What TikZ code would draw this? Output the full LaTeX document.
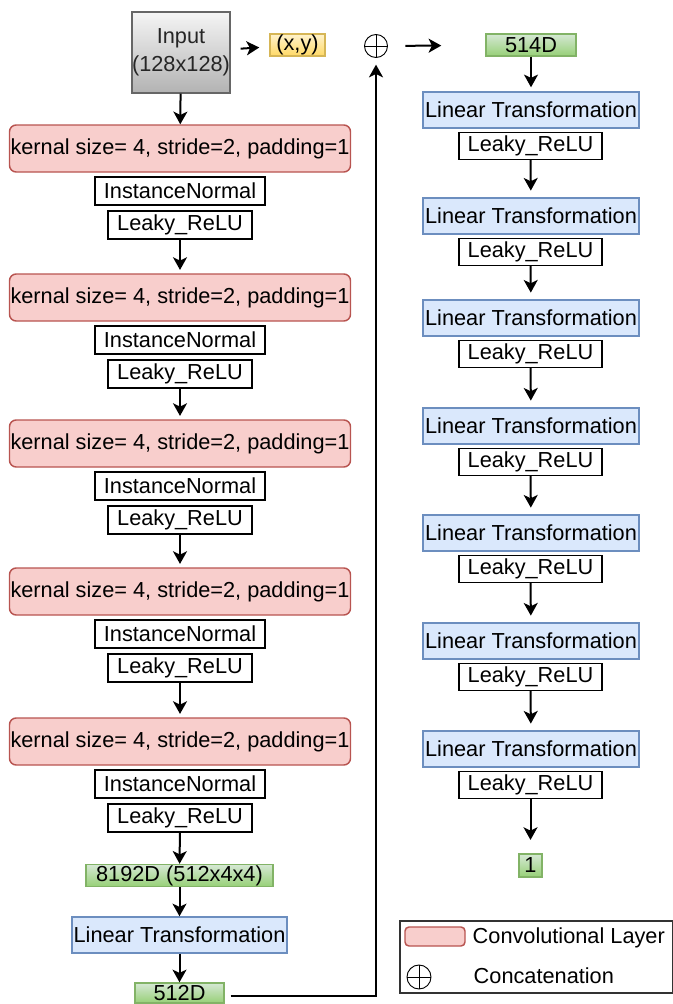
\documentclass[tikz,border=0pt]{standalone}
\usepackage{fontspec}
\setmainfont{Liberation Sans}
\usetikzlibrary{arrows.meta}
\newcommand{\px}{0.75pt}
\definecolor{convfill}{HTML}{F8CECC}
\definecolor{convline}{HTML}{B85450}
\definecolor{linfill}{HTML}{DAE8FC}
\definecolor{linline}{HTML}{6C8EBF}
\definecolor{dimtop}{HTML}{D5E8D4}
\definecolor{dimbot}{HTML}{97D077}
\definecolor{dimline}{HTML}{82B366}
\definecolor{xytop}{HTML}{FFF2CC}
\definecolor{xybot}{HTML}{FFD966}
\definecolor{xyline}{HTML}{D6B656}
\tikzset{ conv/.style = { rectangle % convolution
        , draw = convline
        , fill = convfill
        , rounded corners = 5pt
        , minimum width = 341*\px
        , minimum height = 47*\px
        }
        , inorm/.style = { rectangle % instance norm
        , draw
        , minimum width = 170*\px
        , minimum height = 28*\px
        }
        , relu/.style = { rectangle % activation
        , draw
        , minimum width = 144*\px
        , minimum height = 28*\px
        }
        , lin/.style = { rectangle % linear layer
        , draw = linline
        , fill = linfill
        , minimum width = 216*\px
        , minimum height = 36*\px
        }
        , dim/.style = { rectangle % vector size
        , draw = dimline
        , top color = dimtop
        , bottom color = dimbot
        , minimum height = 22*\px
        }
        , cat/.style = { circle % concatenation
        , draw
        , line width = 0.7pt
        , path picture = {\draw (path picture bounding box.north) -- (path picture bounding box.south)
                                (path picture bounding box.west) -- (path picture bounding box.east);}
        }
        }

\begin{document}
\begin{tikzpicture}[x=\px, y=-\px, inner sep=0pt, line width=1.1pt,
        font=\fontsize{16.3}{19}\selectfont,
        edge_style/.style={draw=black, line width=1.5pt, -{Stealth[length=9.5pt,width=10.5pt,inset=2.5pt]}}]
        \useasboundingbox (0,0) rectangle (673,1004);

        \node [rectangle, draw=black!60, top color=black!4, bottom color=black!30, text=black!85,
               minimum width=80*\px, minimum height=81*\px, align=center,
               font=\fontsize{16.3}{21}\selectfont] (input) at (181,52.5) {Input\\(128x128)};
        \node [rectangle, draw=xyline, top color=xytop, bottom color=xybot,
               minimum width=55*\px, minimum height=22*\px] (xy) at (297.5,45) {(x,y)};
        \node [cat, minimum size=23*\px] (cat) at (376,46) {};
        \node [dim, minimum width=90*\px] (d514) at (531,45) {514D};

        % encoder
        \foreach \y [count=\i] in {148.5,297.5,443.5,591.5,741.5} {
            \node [conv] (c\i) at (180,\y) {kernal size= 4, stride=2, padding=1};
            \node [inorm] (n\i) at (180,\y+42.5) {InstanceNormal};
            \node [relu] (l\i) at (180,\y+76.5) {Leaky\_ReLU};
        }
        \node [dim, minimum width=187*\px] (d8192) at (179.5,875.5) {8192D (512x4x4)};
        \node [lin, minimum width=215*\px] (lt) at (179.5,935) {Linear Transformation};
        \node [dim, minimum width=89*\px, minimum height=20*\px] (d512) at (179.5,993) {512D};

        % discriminator head
        \foreach \y [count=\i] in {110,216,318,426,533,641,749} {
            \node [lin] (r\i) at (531,\y) {Linear Transformation};
            \node [relu, minimum width=143*\px, minimum height=27*\px] (rl\i) at (530.5,\y+36) {Leaky\_ReLU};
        }
        \node [dim, minimum width=23*\px, minimum height=23*\px] (one) at (530.5,865.5) {1};

        \draw [edge_style, shorten <=7.5pt, shorten >=7.5pt] (input) -- (xy);
        \draw [edge_style, shorten <=13pt, shorten >=33pt] (cat) -- (d514);
        \draw [edge_style] (input) -- (c1);
        \foreach \i [count=\j from 2] in {1,...,4}
            \draw [edge_style, shorten >=2.5pt] (l\i) -- (c\j);
        \draw [edge_style] (l5) -- (d8192);
        \draw [edge_style] (d8192) -- (lt);
        \draw [edge_style] (lt) -- (d512);
        \draw [edge_style, shorten <=4.5pt, shorten >=5pt] ([yshift=-2pt]d512.east) -| (cat.south);
        \draw [edge_style, shorten >=3pt] (d514) -- (r1);
        \foreach \i [count=\j from 2] in {1,...,6}
            \draw [edge_style, shorten >=5pt] (rl\i) -- (r\j);
        \draw [edge_style, shorten >=10pt] (rl7) -- (one);

        % legend
        \node [rectangle, draw=black!80, line width=0.8pt, minimum width=273*\px, minimum height=72*\px] (lgd) at (536.5,957) {};
        \node [rectangle, draw=convline, fill=convfill, rounded corners=3pt, minimum width=60*\px, minimum height=19*\px] (lgdconv) at (435,936.5) {};
        \node [anchor=west] (lgdconvtxt) at (472,938) {Convolutional Layer};
        \node [cat, minimum size=24*\px] (lgdcat) at (419,977) {};
        \node [anchor=west] (lgdcattxt) at (473,976) {Concatenation};
\end{tikzpicture}
\end{document}
